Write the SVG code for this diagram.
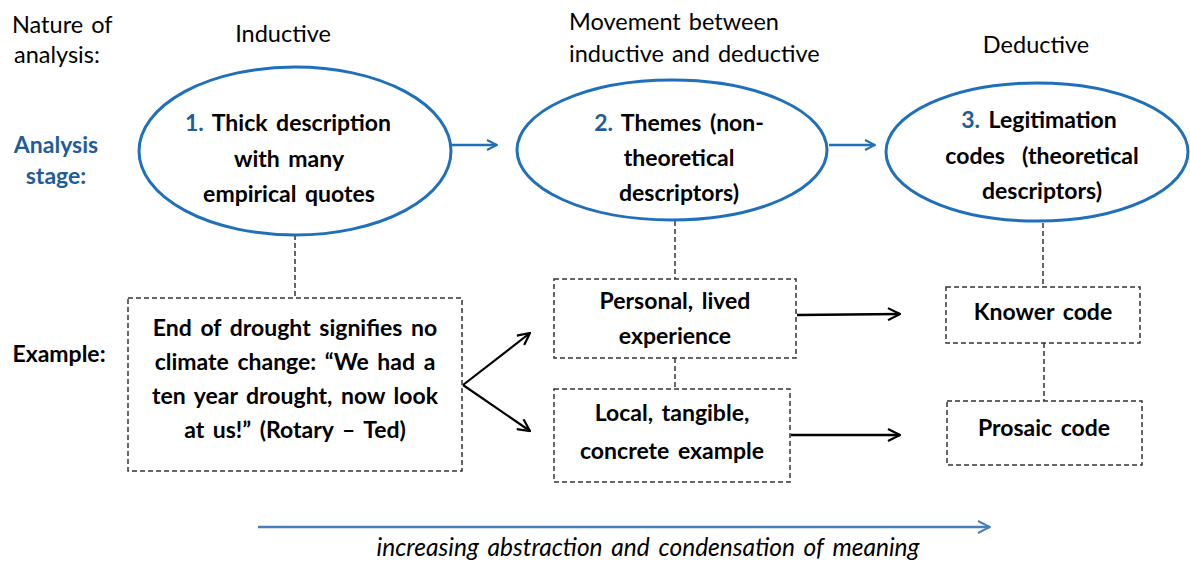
<svg xmlns="http://www.w3.org/2000/svg" width="1190" height="563" viewBox="0 0 1190 563">
<defs>
<marker id="ab" viewBox="0 0 12 12" refX="11" refY="6" markerWidth="12" markerHeight="12" markerUnits="userSpaceOnUse" orient="auto"><path d="M1,1 L11,6 L1,11" fill="none" stroke="#1f6fba" stroke-width="2"/></marker>
<marker id="ak" viewBox="0 0 14 14" refX="13" refY="7" markerWidth="14" markerHeight="14" markerUnits="userSpaceOnUse" orient="auto"><path d="M1,1 L13,7 L1,13" fill="none" stroke="#000" stroke-width="2.2"/></marker>
<marker id="ag" viewBox="0 0 14 14" refX="13" refY="7" markerWidth="14" markerHeight="14" markerUnits="userSpaceOnUse" orient="auto"><path d="M1,1 L13,7 L1,13" fill="none" stroke="#4a7ebb" stroke-width="2"/></marker>
</defs>
<style>
text{font-family:Lato,"Open Sans","Liberation Sans",sans-serif;fill:#000}
.r{font-size:23.5px;word-spacing:2px}
.b{font-size:23px;font-weight:bold;text-anchor:middle;word-spacing:3px}
.n{fill:#1f5d99}
.ell{fill:none;stroke:#1f6fba;stroke-width:3}
.box{fill:none;stroke:#333;stroke-width:1.5;stroke-dasharray:5,3}
.dl{stroke:#333;stroke-width:1.5;stroke-dasharray:5,3;fill:none}
</style>
<rect width="1190" height="563" fill="#fff"/>
<g id="labels">
<text class="r" x="12" y="33">Nature of</text>
<text class="r" x="14" y="63">analysis:</text>
<text class="r" x="283" y="42" text-anchor="middle">Inductive</text>
<text class="r" x="569" y="30">Movement between</text>
<text class="r" x="569" y="62">inductive and deductive</text>
<text class="r" x="1036" y="53" text-anchor="middle">Deductive</text>
<text class="b n" x="56" y="153" font-size="23.5">Analysis</text>
<text class="b n" x="56" y="184" font-size="23.5">stage:</text>
<text class="b" x="59" y="362" font-size="23.5">Example:</text>
</g>
<g id="connectors">
<line x1="452" y1="145" x2="497" y2="145" stroke="#1f6fba" stroke-width="2.5" marker-end="url(#ab)"/>
<line x1="829" y1="145" x2="875" y2="145" stroke="#1f6fba" stroke-width="2.5" marker-end="url(#ab)"/>
<line class="dl" x1="295" y1="235" x2="295" y2="298"/>
<line class="dl" x1="675" y1="221" x2="675" y2="279"/>
<line class="dl" x1="675" y1="358" x2="675" y2="389"/>
<line class="dl" x1="1043" y1="223" x2="1043" y2="287"/>
<line class="dl" x1="1044" y1="343" x2="1044" y2="401"/>
<line x1="463" y1="385" x2="530" y2="333" stroke="#000" stroke-width="2.2" marker-end="url(#ak)"/>
<line x1="463" y1="385" x2="530" y2="431" stroke="#000" stroke-width="2.2" marker-end="url(#ak)"/>
<line x1="797" y1="315" x2="900" y2="314" stroke="#000" stroke-width="2.5" marker-end="url(#ak)"/>
<line x1="791" y1="435" x2="900" y2="435" stroke="#000" stroke-width="2.5" marker-end="url(#ak)"/>
<line x1="258" y1="527" x2="990" y2="527" stroke="#4a7ebb" stroke-width="2.5" marker-end="url(#ag)"/>
</g>
<g id="stage1">
<ellipse class="ell" cx="295" cy="151" rx="156" ry="84"/>
<text class="b" x="288" y="131"><tspan class="n">1.</tspan> Thick description</text>
<text class="b" x="289" y="167">with many</text>
<text class="b" x="289" y="202">empirical quotes</text>
</g>
<g id="stage2">
<ellipse class="ell" cx="672" cy="150" rx="155" ry="70"/>
<text class="b" x="679" y="131"><tspan class="n">2.</tspan> Themes (non-</text>
<text class="b" x="679" y="166">theoretical</text>
<text class="b" x="679" y="201">descriptors)</text>
</g>
<g id="stage3">
<ellipse class="ell" cx="1037" cy="152" rx="151" ry="69"/>
<text class="b" x="1039" y="128"><tspan class="n">3.</tspan> Legitimation</text>
<text class="b" x="1042" y="164">codes&#160; (theoretical</text>
<text class="b" x="1042" y="199">descriptors)</text>
</g>
<g id="example">
<rect class="box" x="128" y="298" width="334" height="173"/>
<text class="b" x="295" y="336">End of drought signifies no</text>
<text class="b" x="295" y="370">climate change: “We had a</text>
<text class="b" x="295" y="404">ten year drought, now look</text>
<text class="b" x="295" y="438">at us!” (Rotary – Ted)</text>
</g>
<g id="personal">
<rect class="box" x="554" y="279" width="242" height="79"/>
<text class="b" x="675" y="309">Personal, lived</text>
<text class="b" x="675" y="344">experience</text>
</g>
<g id="local">
<rect class="box" x="554" y="389" width="236" height="93"/>
<text class="b" x="672" y="421">Local, tangible,</text>
<text class="b" x="672" y="459">concrete example</text>
</g>
<g id="knower">
<rect class="box" x="946" y="287" width="194" height="56"/>
<text class="b" x="1043" y="320">Knower code</text>
</g>
<g id="prosaic">
<rect class="box" x="947" y="401" width="195" height="64"/>
<text class="b" x="1044" y="436">Prosaic code</text>
</g>
<g id="caption">
<text x="648" y="556" font-size="24.5" font-style="italic" text-anchor="middle" word-spacing="3">increasing abstraction and condensation of meaning</text>
</g>
</svg>
